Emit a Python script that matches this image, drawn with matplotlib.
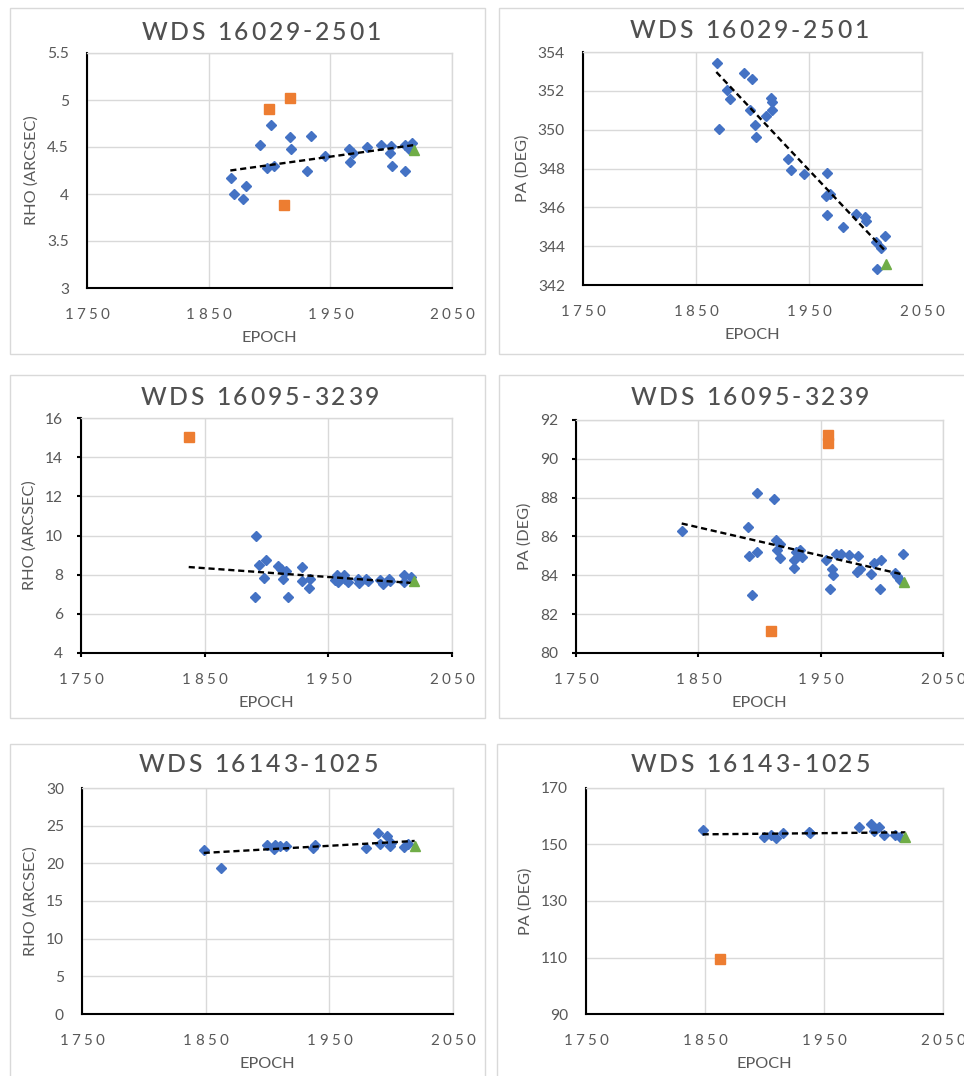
import matplotlib
matplotlib.use('Agg')
import matplotlib.pyplot as plt
from matplotlib.patches import Rectangle
from matplotlib.font_manager import FontProperties, findfont, get_font

plt.rcParams['font.family'] = ['Lato', 'DejaVu Sans']

W, H = 964, 1076
BLUE, ORANGE, GREEN = '#4472C4', '#ED7D31', '#70AD47'
TXT = '#595959'
GRID = '#D9D9D9'

# --- WDS 16029-2501, separation ---
rho1_x = [1868.6, 1870.5, 1878.0, 1880.7, 1892.0, 1898.0, 1901.5, 1904.0, 1916.6, 1917.7,
          1931.0, 1933.8, 1946.0, 1965.6, 1966.4, 1968.4, 1980.0, 1991.4, 1998.8, 2000.0,
          2000.7, 2011.0, 2011.0, 2015.0, 2017.0]
rho1_y = [4.17, 4.00, 3.95, 4.08, 4.52, 4.28, 4.73, 4.30, 4.61, 4.48,
          4.24, 4.62, 4.40, 4.48, 4.34, 4.44, 4.50, 4.52, 4.44, 4.51,
          4.30, 4.25, 4.52, 4.48, 4.54]
rho1_rej_x = [1899.6, 1916.8, 1911.6]
rho1_rej_y = [4.90, 5.02, 3.88]
rho1_new_x, rho1_new_y = [2018.5], [4.47]
rho1_fit_x, rho1_fit_y = [1867.8, 2018.5], [4.25, 4.52]

# --- WDS 16029-2501, position angle ---
pa1_x = [1868.9, 1870.4, 1877.4, 1880.4, 1892.2, 1899.9, 1898.1, 1902.0, 1903.4, 1911.6,
         1916.7, 1917.6, 1917.6, 1931.4, 1933.8, 1945.3, 1966.2, 1965.3, 1968.3, 1966.2,
         1980.0, 1991.9, 1999.9, 2000.7, 2009.6, 2014.0, 2017.0, 2010.5]
pa1_y = [353.42, 350.02, 352.03, 351.60, 352.94, 352.63, 351.03, 350.23, 349.63, 350.71,
         351.65, 351.43, 351.00, 348.51, 347.91, 347.70, 347.78, 346.59, 346.70, 345.60,
         345.00, 345.65, 345.51, 345.29, 344.19, 343.93, 344.52, 342.80]
pa1_rej_x, pa1_rej_y = [], []
pa1_new_x, pa1_new_y = [2018.4], [343.06]
pa1_fit_x, pa1_fit_y = [1868.0, 2018.4], [352.97, 343.70]

# --- WDS 16095-3239, separation ---
rho2_x = [1891.6, 1890.8, 1894.3, 1899.4, 1898.1, 1909.7, 1911.9, 1913.7, 1915.9, 1917.0,
          1928.6, 1928.6, 1934.0, 1934.8, 1955.0, 1956.9, 1957.7, 1962.3, 1966.3, 1963.6,
          1973.6, 1974.4, 1980.6, 1981.7, 1992.0, 1993.9, 1998.7, 2000.0, 2010.9, 2011.4,
          2017.0]
rho2_y = [9.97, 6.86, 8.51, 8.77, 7.85, 8.44, 8.31, 7.76, 8.19, 6.86,
          8.39, 7.68, 7.34, 7.76, 7.71, 8.00, 7.63, 7.97, 7.63, 7.80,
          7.76, 7.57, 7.80, 7.68, 7.71, 7.51, 7.76, 7.68, 8.00, 7.63,
          7.88]
rho2_rej_x, rho2_rej_y = [1837.7], [15.01]
rho2_new_x, rho2_new_y = [2019.0], [7.68]
rho2_fit_x, rho2_fit_y = [1837.1, 2019.0], [8.39, 7.57]

# --- WDS 16095-3239, position angle ---
pa2_x = [1836.9, 1890.2, 1891.6, 1893.5, 1897.6, 1898.2, 1911.7, 1913.4, 1916.6, 1914.4,
         1916.6, 1928.0, 1928.0, 1930.2, 1933.5, 1934.9, 1954.2, 1957.5, 1959.6, 1960.2,
         1962.4, 1966.4, 1973.0, 1980.6, 1980.0, 1982.5, 1990.9, 1993.4, 1999.7, 1998.8,
         2010.5, 2012.5, 2014.6, 2017.4]
pa2_y = [86.29, 86.50, 85.00, 83.01, 85.18, 88.22, 87.91, 85.81, 85.60, 85.30,
         84.87, 84.81, 84.40, 85.18, 85.33, 84.92, 84.78, 83.32, 84.35, 84.00,
         85.09, 85.12, 85.04, 85.00, 84.18, 84.35, 84.09, 84.64, 84.81, 83.32,
         84.14, 83.95, 83.78, 85.09]
pa2_rej_x = [1956.4, 1955.9, 1909.3]
pa2_rej_y = [91.25, 90.83, 81.12]
pa2_new_x, pa2_new_y = [2018.4], [83.66]
pa2_fit_x, pa2_fit_y = [1836.4, 2017.4], [86.67, 84.04]

# --- WDS 16143-1025, separation ---
rho3_x = [1848.4, 1862.7, 1899.6, 1905.5, 1906.3, 1910.4, 1915.2, 1936.5, 1938.7, 1979.6,
          1989.4, 1991.2, 1996.6, 1999.3, 2000.1, 2010.1, 2013.3]
rho3_y = [21.74, 19.44, 22.49, 21.96, 22.49, 22.31, 22.31, 22.09, 22.49, 22.05,
          24.08, 22.53, 23.59, 22.27, 22.75, 22.13, 22.53]
rho3_rej_x, rho3_rej_y = [], []
rho3_new_x, rho3_new_y = [2019.0], [22.27]
rho3_fit_x, rho3_fit_y = [1848.4, 2019.0], [21.38, 22.97]

# --- WDS 16143-1025, position angle ---
pa3_x = [1848.3, 1899.9, 1905.7, 1909.7, 1915.3, 1937.1, 1938.5, 1979.7, 1989.8, 1991.7,
         1996.5, 2000.1, 2009.9, 2013.6]
pa3_y = [155.04, 152.69, 153.27, 152.45, 154.22, 154.45, 154.22, 156.22, 157.28, 154.69,
         156.22, 153.27, 153.51, 152.57]
pa3_rej_x, pa3_rej_y = [1862.9], [109.5]
pa3_new_x, pa3_new_y = [2018.4], [152.69]
pa3_fit_x, pa3_fit_y = [1848.0, 2018.4], [153.6, 154.3]

x_ticks = [1750, 1850, 1950, 2050]

panels = [
    # title, ylabel, data, yticks, plot box px (l, t, r, b), frame px, title centre, tick marks
    ('WDS 16029-2501', 'RHO (ARCSEC)',
     (rho1_x, rho1_y, rho1_rej_x, rho1_rej_y, rho1_new_x, rho1_new_y, rho1_fit_x, rho1_fit_y),
     [3, 3.5, 4, 4.5, 5, 5.5], (87, 53, 452, 288), (10, 8, 485, 354), (261, 39.5), False),
    ('WDS 16029-2501', 'PA (DEG)',
     (pa1_x, pa1_y, pa1_rej_x, pa1_rej_y, pa1_new_x, pa1_new_y, pa1_fit_x, pa1_fit_y),
     [342, 344, 346, 348, 350, 352, 354], (583, 52, 922, 285), (499, 8, 975, 354), (749, 38.5), False),
    ('WDS 16095-3239', 'RHO (ARCSEC)',
     (rho2_x, rho2_y, rho2_rej_x, rho2_rej_y, rho2_new_x, rho2_new_y, rho2_fit_x, rho2_fit_y),
     [4, 6, 8, 10, 12, 14, 16], (81, 418, 452, 653), (10, 375, 485, 718), (260, 405), True),
    ('WDS 16095-3239', 'PA (DEG)',
     (pa2_x, pa2_y, pa2_rej_x, pa2_rej_y, pa2_new_x, pa2_new_y, pa2_fit_x, pa2_fit_y),
     [80, 82, 84, 86, 88, 90, 92], (576, 420, 943, 653), (499, 375, 975, 718), (750, 405), True),
    ('WDS 16143-1025', 'RHO (ARCSEC)',
     (rho3_x, rho3_y, rho3_rej_x, rho3_rej_y, rho3_new_x, rho3_new_y, rho3_fit_x, rho3_fit_y),
     [0, 5, 10, 15, 20, 25, 30], (82, 788, 453, 1014), (10, 744, 485, 1090), (258, 772.5), False),
    ('WDS 16143-1025', 'PA (DEG)',
     (pa3_x, pa3_y, pa3_rej_x, pa3_rej_y, pa3_new_x, pa3_new_y, pa3_fit_x, pa3_fit_y),
     [90, 110, 130, 150, 170], (586, 788, 943, 1014), (497, 744, 975, 1090), (750, 772.5), False),
]

fig = plt.figure(figsize=(W / 100, H / 100), dpi=100)


def spaced_text(x, y, s, size, gap, color=TXT, weight='normal'):
    """Text with extra letter spacing; x is the centre, y the baseline (pixels from top)."""
    prop = FontProperties(family='Lato', size=size, weight=weight)
    font = get_font(findfont(prop))
    font.set_size(size, 100)
    adv = [font.load_char(ord(c)).linearHoriAdvance / 65536 for c in s]
    x0 = x - (sum(adv) + gap * (len(s) - 1)) / 2
    for c, a in zip(s, adv):
        if c != ' ':
            fig.text(x0 / W, 1 - y / H, c, fontsize=size, color=color, weight=weight,
                     ha='left', va='baseline', family=['Lato', 'DejaVu Sans'])
        x0 += a + gap


for title, ylab, data, yticks, box, frame, tpos, tickmarks in panels:
    bx, by, rx, ry, gx, gy, fx, fy = data
    l, t, r, b = box
    fl, ft, fr, fb = frame
    fig.add_artist(Rectangle((fl / W, 1 - fb / H), (fr - fl) / W, (fb - ft) / H,
                             transform=fig.transFigure, fill=False, ec=GRID, lw=1))
    ax = fig.add_axes([l / W, 1 - b / H, (r - l) / W, (b - t) / H])

    ax.plot(bx, by, 'D', color=BLUE, ms=4.6, mec=BLUE, ls='none', zorder=3)
    ax.plot(fx, fy, color='black', lw=1.7, dashes=(2.6, 1.6), zorder=4)
    if rx:
        ax.plot(rx, ry, 's', color=ORANGE, ms=6.6, ls='none', zorder=5)
    ax.plot(gx, gy, '^', color=GREEN, ms=7.5, ls='none', zorder=5)

    ax.set_xlim(1750, 2050)
    ax.set_ylim(yticks[0], yticks[-1])
    ax.set_xticks(x_ticks)
    ax.set_yticks(yticks)
    ax.set_xticklabels([])
    ax.set_yticklabels([f'{v:g}' for v in yticks])
    ax.grid(True, color=GRID, lw=1)
    ax.set_axisbelow(True)
    for side in ('top', 'right'):
        ax.spines[side].set_color(GRID)
        ax.spines[side].set_linewidth(1)
    for side in ('left', 'bottom'):
        ax.spines[side].set_color('black')
        ax.spines[side].set_linewidth(1.5)
    if tickmarks:
        ax.tick_params(length=3, width=1.5, color='black', direction='out', pad=10)
    else:
        ax.tick_params(length=0, pad=13)
    ax.tick_params(axis='y', labelsize=11.2, labelcolor=TXT)
    ax.set_ylabel(ylab, fontsize=11.7, color=TXT, labelpad=6)

    # horizontal axis labels, letter-spaced
    for xt in x_ticks:
        px = l + (xt - 1750) / 300 * (r - l)
        spaced_text(px, b + 31, str(xt), 10.9, 3.3)
    fig.text(((l + r) / 2) / W, 1 - (b + 54) / H, 'EPOCH', fontsize=11.7, color=TXT,
             ha='center', va='baseline')
    spaced_text(tpos[0], tpos[1], title, 17.8, 2.8, color='#505050', weight='medium')

fig.savefig('out.png', dpi=100)
